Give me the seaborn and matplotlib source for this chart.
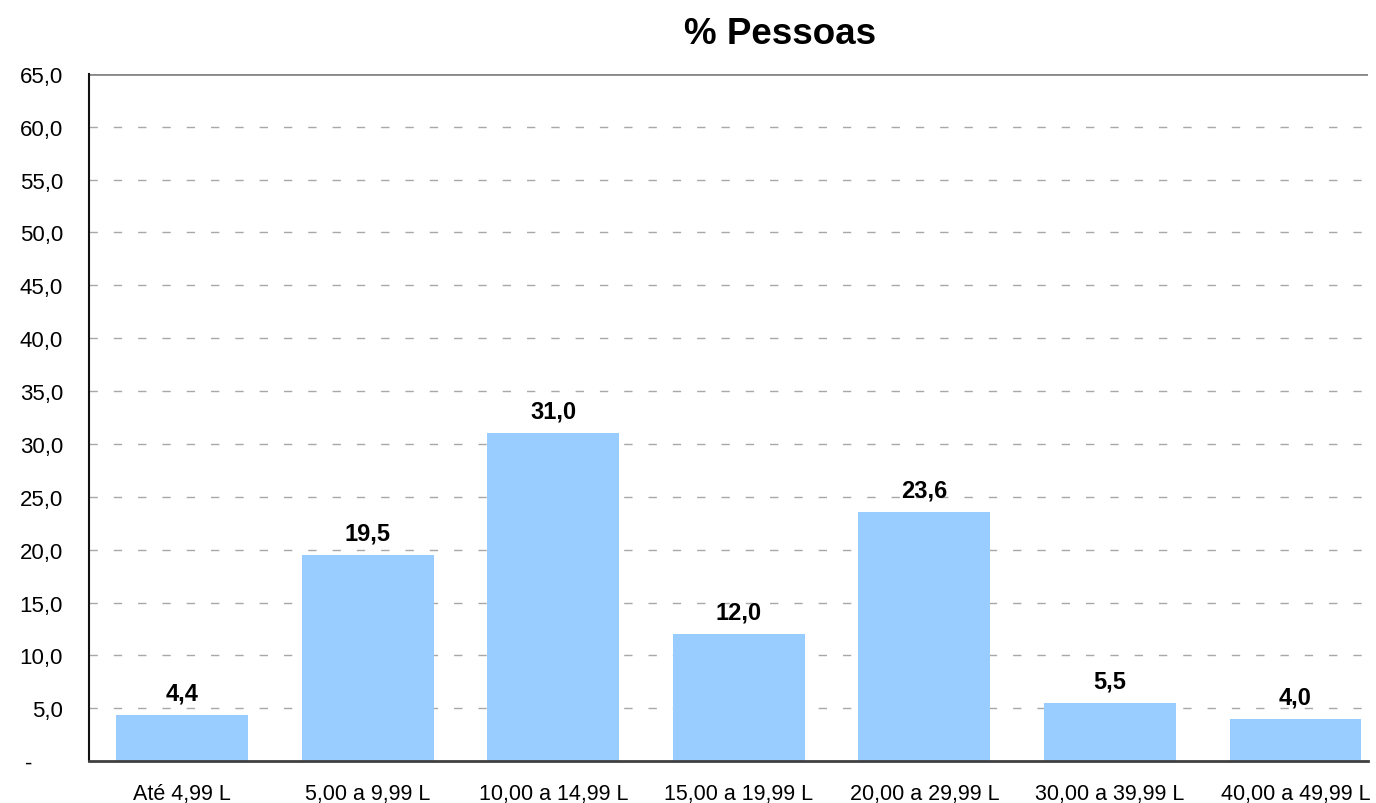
import matplotlib
matplotlib.use('Agg')
import matplotlib.pyplot as plt
import seaborn as sns
import numpy as np
import pandas as pd

categorias = ['Até 4,99 L', '5,00 a 9,99 L', '10,00 a 14,99 L', '15,00 a 19,99 L',
              '20,00 a 29,99 L', '30,00 a 39,99 L', '40,00 a 49,99 L']
pessoas = [4.4, 19.5, 31.0, 12.0, 23.6, 5.5, 4.0]
yticks = [0, 5, 10, 15, 20, 25, 30, 35, 40, 45, 50, 55, 60, 65]

df = pd.DataFrame({'faixa': categorias, 'pct': pessoas})

sns.set_style('white')
plt.rcParams['font.family'] = ['Liberation Sans', 'DejaVu Sans']
plt.rcParams['text.color'] = 'black'
plt.rcParams['xtick.color'] = 'black'
plt.rcParams['ytick.color'] = 'black'

fig, ax = plt.subplots(figsize=(13.76, 8.04), dpi=100)
fig.subplots_adjust(left=0.065, right=0.994, top=0.907, bottom=0.052)

sns.barplot(data=df, x='faixa', y='pct', color='#99CCFF', saturation=1,
            width=0.71, linewidth=0, ax=ax, zorder=3)

ax.set_ylim(0, 65)
# last category runs past the plot edge, as in the source chart
ax.set_xlim(-0.5, 6.39)
ax.set_yticks(yticks)
# accounting-style zero: a dash padded on the right
ax.set_yticklabels(['-     ' if v == 0 else f'{v:.1f}'.replace('.', ',') for v in yticks],
                   fontsize=16)
for v in yticks[1:-1]:
    ax.axhline(v, color='#A8A8A8', lw=1, ls=(0, (6, 11.5)), zorder=1)
ax.axhline(65, color='#888888', lw=2, zorder=2)

# x ticks between categories, labels at centres
ax.set_xticks(np.arange(-0.5, len(categorias) - 0.5, 1.0))
ax.set_xticklabels([])
ax.set_xticks(np.arange(len(categorias)), minor=True)
ax.set_xticklabels(categorias, minor=True, fontsize=15.5)
ax.tick_params(axis='x', which='major', direction='out', length=6, width=1)
ax.tick_params(axis='x', which='minor', length=0, pad=16)
ax.tick_params(axis='y', direction='out', length=7, width=1, pad=12)

ax.set_xlabel('')
ax.set_ylabel('')
ax.set_title('% Pessoas', fontsize=26.5, fontweight='bold', pad=22, x=0.54)

for sp in ['top', 'right']:
    ax.spines[sp].set_visible(False)
ax.spines['left'].set_color('#111111')
ax.spines['left'].set_linewidth(1.5)
ax.spines['bottom'].set_color('#404040')
ax.spines['bottom'].set_linewidth(2)
ax.spines['bottom'].set_zorder(4)

for i, v in enumerate(pessoas):
    ax.text(i, v + 1.0, f'{v:.1f}'.replace('.', ','), ha='center', va='bottom',
            fontsize=17, fontweight='bold')

plt.savefig('out.png', dpi=100)
